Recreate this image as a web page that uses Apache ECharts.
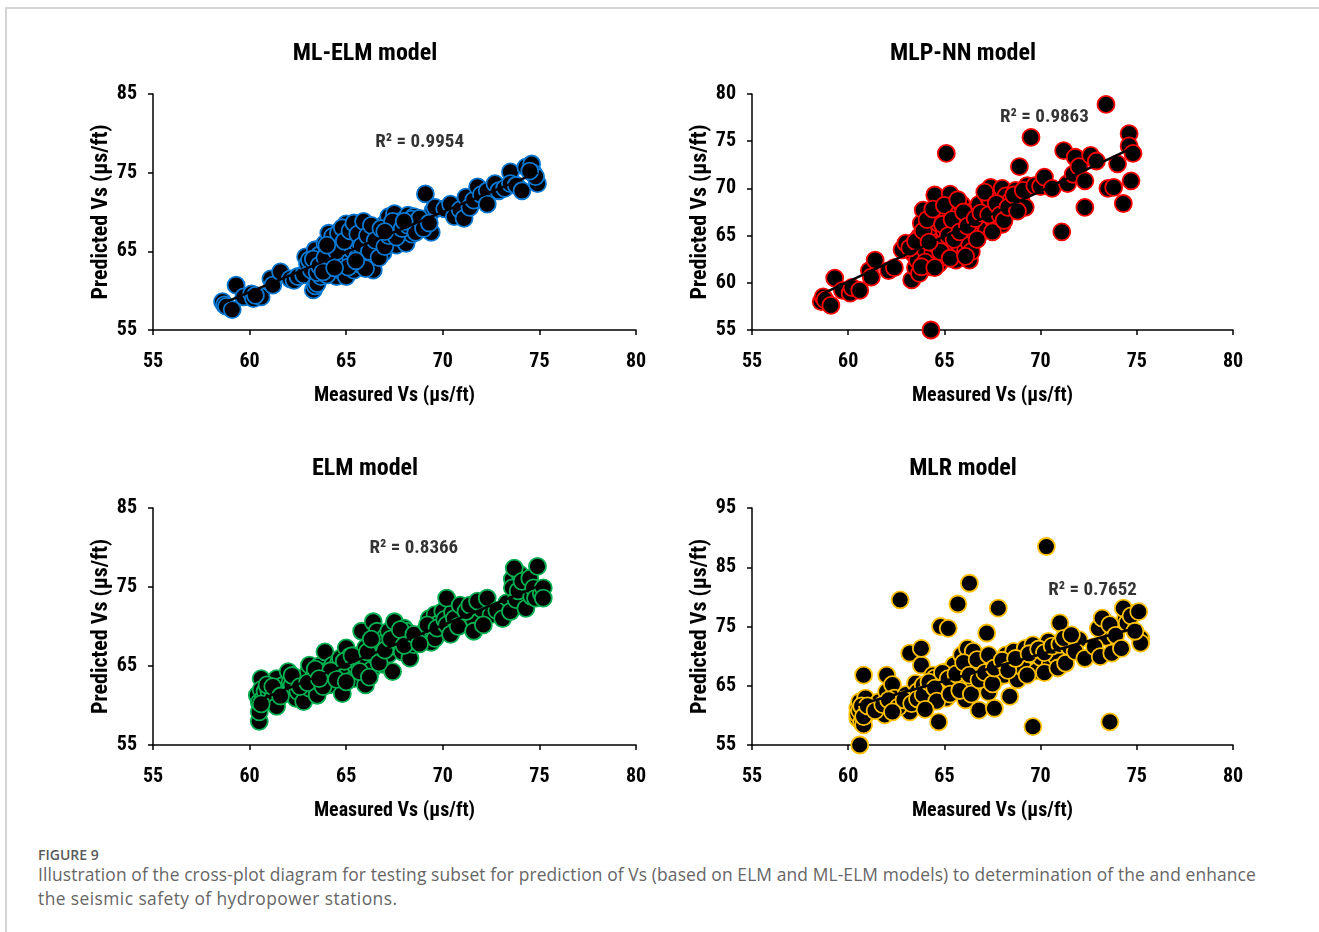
<!DOCTYPE html>
<html>
<head>
<meta charset="utf-8">
<script src="https://cdn.jsdelivr.net/npm/echarts@6/dist/echarts.min.js"></script>
<style>
  html, body { margin: 0; padding: 0; background: #fff; }
  #frame { position: absolute; left: 5px; top: 7px; width: 1314px; height: 925px;
           border-top: 2px solid #d4d4d4; border-left: 2px solid #d4d4d4; }
  #chart { position: absolute; left: 0; top: 0; width: 1319px; height: 840px; }
  .cap { position: absolute; left: 38px; font-family: "Open Sans", "Noto Sans", sans-serif; color: #666; white-space: nowrap; }
  #figno { top: 845px; font-size: 14px; font-weight: 600; color: #5a5a5a; }
  #l1 { top: 862px; font-size: 17.4px; font-weight: 400; letter-spacing: 0.12px; }
  #l2 { top: 886px; font-size: 17.4px; font-weight: 400; letter-spacing: 0.43px; }
</style>
</head>
<body>
<div id="frame"></div>
<div id="chart"></div>
<div class="cap" id="figno">FIGURE 9</div>
<div class="cap" id="l1">Illustration of the cross-plot diagram for testing subset for prediction of Vs (based on ELM and ML-ELM models) to determination of the and enhance</div>
<div class="cap" id="l2">the seismic safety of hydropower stations.</div>
<script>
// ---------- data ----------
const modelTitles = ['ML-ELM model', 'MLP-NN model', 'ELM model', 'MLR model'];
const r2Texts = ['R² = 0.9954', 'R² = 0.9863', 'R² = 0.8366', 'R² = 0.7652'];
const r2Anchor = [[68.8, 78.9], [70.2, 77.5], [68.5, 79.9], [72.7, 81.2]];
const xTicks = [55, 60, 65, 70, 75, 80];
const yRanges = [[55, 85, 10], [55, 80, 5], [55, 85, 10], [55, 95, 10]];
const borderColors = ['#0a78d2', '#ff0000', '#00b050', '#ffc000'];

const mlElmPoints = [
[58.6,58.6],[58.7,58.2],[58.8,58.0],[59.1,57.6],[59.3,60.7],[59.7,59.2],[60.1,59.6],[60.2,59.0],[60.6,59.2],[60.3,59.4],
[61.1,61.5],[61.2,60.7],[61.6,62.4],[62.1,61.5],[62.3,61.3],[62.5,61.8],[62.8,62.0],
[62.9,64.3],[63.0,63.4],[63.2,62.6],[63.3,60.1],[63.4,60.6],[63.5,60.9],[63.7,61.8],[63.4,65.2],[63.6,64.5],[63.9,66.0],[63.8,63.0],[64.0,64.8],[64.1,67.3],
[64.2,65.6],[64.3,63.9],[64.5,61.8],[64.4,66.5],[64.6,64.0],[64.7,62.6],[64.8,65.5],[64.9,63.5],[65.0,61.8],[64.7,67.7],[65.0,68.5],[65.1,66.5],[65.2,64.5],
[65.4,67.7],[65.3,65.2],[65.4,62.6],[65.5,66.2],[65.6,64.3],[65.7,63.4],[65.7,68.3],[66.0,68.5],[65.8,66.8],[65.9,65.0],[66.0,63.6],[66.2,66.0],[66.3,64.5],
[66.4,62.6],[66.4,67.4],[66.6,67.7],[66.6,65.5],[66.8,66.8],[66.9,64.8],[67.0,68.5],[67.1,66.2],[67.2,69.4],[67.3,66.0],[67.4,67.5],[67.5,69.8],[67.6,65.8],
[67.7,67.3],[67.8,68.8],[68.0,66.6],[68.1,67.7],[68.2,69.6],[68.3,68.5],[68.1,66.0],[68.4,67.2],[68.5,69.4],[68.7,68.0],[68.9,68.5],[69.1,72.3],[69.3,67.7],
[69.2,69.0],[69.5,70.2],[69.6,70.6],[69.4,67.4],
[63.1,63.9],[63.3,64.0],[63.5,62.3],[63.6,63.2],[63.9,64.2],[64.0,62.0],[64.2,63.0],[64.3,66.9],[64.5,65.0],[64.6,67.3],[64.8,68.0],[64.9,66.3],[65.1,63.0],
[65.2,67.6],[65.4,68.6],[65.6,67.2],[65.8,65.7],[65.9,68.8],[66.1,67.0],[66.2,65.0],[66.3,68.3],[66.5,66.4],[66.7,64.2],[66.8,67.9],[67.0,65.6],[67.2,67.0],
[67.4,68.8],[67.6,66.8],[67.9,67.9],[68.2,68.3],[68.4,69.1],[68.6,67.4],[68.8,69.2],[69.0,67.9],[69.3,68.6],[64.0,65.8],[63.8,62.4],[64.4,62.9],[66.0,62.8],
[65.5,63.8],[67.0,67.5],[68.0,68.8],
[70.1,70.4],[70.4,71.0],[70.6,69.4],[70.9,70.3],[71.2,71.9],[71.1,69.2],[71.4,70.6],[71.6,71.5],[71.8,73.2],[72.0,72.2],[72.3,72.7],[72.3,71.0],[72.7,73.6],
[72.9,72.7],[73.2,73.0],[73.5,75.1],[73.5,73.6],[73.8,73.4],[74.1,72.7],[74.3,75.7],[74.6,76.1],[74.7,74.9],[74.9,73.6],[74.8,74.5],[74.5,75.2]
];

const mlpNnPoints = [
[58.6,58.0],[58.7,58.5],[58.8,58.2],[59.1,57.6],[59.3,60.5],[59.7,59.2],[60.1,58.9],[60.2,59.5],[60.6,59.2],
[61.1,61.3],[61.2,60.6],[61.4,62.4],[62.1,61.3],[62.4,61.6],[62.8,63.5],[63.0,64.2],[63.3,60.3],[63.4,63.1],[63.5,61.6],[63.6,62.4],[63.7,61.0],[63.7,64.9],
[63.8,66.3],[63.9,67.7],[64.0,63.5],[64.2,65.0],[64.3,65.6],[64.3,61.7],[64.5,69.3],[64.4,63.2],[64.6,67.0],[64.7,66.3],[64.7,62.0],[64.8,64.5],[64.9,62.7],
[65.0,65.5],[65.1,67.0],[65.1,73.7],[65.2,63.8],[65.3,69.4],[65.3,65.6],[65.4,62.7],[65.5,67.7],[65.6,62.4],[65.6,66.2],[65.8,64.0],[65.9,68.3],[65.9,64.9],
[66.0,66.8],[66.1,63.4],[66.3,62.4],[66.3,64.2],[66.4,67.5],[66.5,65.5],[66.8,68.3],[66.8,65.2],[67.0,66.4],[67.2,65.6],[67.3,69.0],[67.4,70.1],[67.4,68.7],
[67.5,66.8],[67.6,67.0],[67.8,68.0],[68.0,70.0],[68.0,66.2],[68.2,69.2],[68.4,68.6],[68.5,67.7],[68.7,69.8],[68.9,72.3],[69.0,68.6],[69.2,68.0],[69.3,70.3],
[63.2,63.7],[63.5,64.4],[63.9,65.5],[64.0,62.2],[64.1,66.7],[64.4,67.8],[64.6,64.0],[64.9,66.2],[65.0,68.2],[65.2,65.0],[65.4,66.7],[65.5,64.6],[65.7,68.8],
[65.8,65.4],[66.0,67.5],[66.2,66.0],[66.4,63.3],[66.6,66.8],[66.7,64.6],[66.9,67.4],[67.1,69.6],[67.3,67.2],[67.5,65.4],[67.7,68.4],[67.9,67.2],[68.1,66.6],
[68.3,68.0],[68.6,69.3],[68.8,67.6],[69.1,69.8],[64.8,63.3],[65.3,62.6],[66.1,62.8],[63.8,61.7],[64.5,61.6],[64.2,64.3],
[69.5,75.4],[69.7,70.3],[70.0,70.2],[70.2,71.2],[70.6,70.0],[71.1,65.4],[71.2,74.0],[71.4,70.5],[71.7,71.5],[71.8,73.3],[72.0,72.3],[72.3,68.0],[72.3,70.8],
[72.6,73.5],[72.9,72.9],[73.4,78.9],[73.5,70.0],[73.8,70.1],[74.0,72.6],[74.3,68.4],[74.6,75.8],[74.6,74.5],[74.7,70.8],[74.8,73.7],[64.3,55.0]
];

const elmPoints = [
[60.4,61.3],[60.5,58.0],[60.5,59.2],[60.5,60.4],[60.6,63.4],[60.6,62.0],[60.7,60.9],[60.8,61.8],[61.0,61.8],[61.2,61.0],[61.4,63.4],[61.4,59.9],[61.7,62.5],
[62.0,64.3],[62.1,62.9],[62.2,62.6],[62.4,60.9],[62.5,61.8],[62.7,63.0],[62.8,60.5],[63.0,64.0],[63.1,65.1],[63.1,62.2],[63.3,63.5],[63.5,61.3],[63.6,65.0],
[63.7,64.3],[63.9,66.8],[64.0,63.6],[64.1,62.6],[64.3,65.1],[64.4,64.0],[64.6,65.4],[64.7,66.0],[64.8,61.5],[64.9,64.0],[65.0,67.3],[65.1,64.7],[65.2,66.2],
[65.4,63.4],[65.5,65.0],[65.6,65.6],[65.8,69.4],[65.8,66.5],[66.0,67.3],[65.9,63.9],[66.0,62.6],[66.1,65.3],[66.3,64.5],[66.4,70.6],[66.5,67.8],[66.6,69.4],
[66.6,66.0],[66.8,67.7],[66.9,65.2],[67.0,68.6],[67.2,69.4],[67.2,66.5],[67.4,64.3],[67.5,70.6],[67.5,67.5],[67.7,68.1],[67.9,66.8],[68.0,69.8],[68.1,69.4],
[68.3,66.0],[68.3,68.2],[68.5,67.7],[68.7,68.6],[68.9,68.1],[69.1,69.5],[69.3,71.0],[69.4,68.0],[69.5,69.4],[69.6,71.5],[69.6,68.5],[69.8,70.4],[70.0,71.9],
[60.6,60.2],[60.9,62.6],[61.2,62.4],[61.6,61.2],[62.2,63.8],[62.6,62.4],[63.0,62.9],[63.4,64.6],[63.8,62.4],[64.2,64.4],[64.5,63.3],[64.9,65.6],[65.3,66.3],
[65.7,64.3],[66.1,66.8],[66.3,68.4],[66.7,65.4],[67.0,67.0],[67.3,68.4],[67.8,69.6],[68.0,67.6],[68.5,69.0],[68.8,67.8],[69.2,70.2],[69.7,69.8],[70.1,70.9],
[70.5,71.8],[71.0,70.6],[71.5,71.1],[72.0,72.2],[72.5,71.5],[73.3,73.0],[73.9,72.8],[74.2,74.0],[74.4,75.0],[73.6,76.0],[74.0,76.6],[66.2,63.6],[65.0,63.0],
[63.6,63.4],
[70.2,73.6],[70.2,70.2],[70.4,69.0],[70.6,71.0],[70.8,70.0],[70.9,72.7],[71.2,71.9],[71.4,72.7],[71.6,69.4],[71.8,73.2],[72.1,70.2],[72.3,73.6],[72.8,72.0],
[73.1,71.0],[73.5,71.9],[73.6,74.9],[73.7,77.4],[73.8,73.4],[73.9,74.5],[74.1,75.7],[74.3,72.3],[74.5,76.1],[74.6,73.8],[74.7,74.9],[74.8,73.6],[74.9,77.6],
[75.1,74.2],[75.2,74.9],[75.2,73.6]
];

const mlrPoints = [
[60.5,59.5],[60.5,61.2],[60.5,60.2],[60.6,55.0],[60.6,62.3],[60.7,58.8],[60.8,58.4],[60.8,66.8],[60.9,60.1],[60.9,62.9],[61.3,61.2],[61.6,62.3],[61.9,60.1],
[62.0,64.0],[62.0,66.8],[62.3,65.2],[62.4,62.9],[62.7,79.5],[62.8,61.8],[63.0,63.5],[63.2,60.6],[63.2,70.5],[63.5,65.4],[63.6,64.0],[63.8,68.5],[63.8,71.3],
[63.9,65.1],[64.1,62.5],[64.3,64.0],[64.4,66.8],[64.5,66.3],[64.7,58.9],[64.8,75.0],[64.8,63.2],[65.0,65.5],[65.1,67.4],[65.1,62.9],[65.2,74.7],[65.4,64.6],
[65.5,68.5],[65.7,78.8],[65.8,66.0],[65.9,70.2],[66.0,66.3],[66.1,62.6],[66.2,71.3],[66.3,82.3],[66.4,64.8],[66.5,70.8],[66.6,67.5],[66.8,60.9],[66.9,65.4],
[67.0,68.5],[67.2,73.9],[67.2,69.1],[67.3,63.9],[67.4,67.4],[67.6,61.2],[67.7,66.2],[67.8,78.1],[67.9,68.3],[68.1,66.8],[68.2,70.2],[68.4,63.2],[68.6,70.8],
[68.8,66.0],[69.0,69.2],[69.1,68.0],[69.2,71.3],[69.6,58.1],[69.6,71.9],[69.8,67.5],[70.0,69.8],[70.3,88.5],[70.4,72.5],[70.5,68.7],[70.8,70.0],[71.0,75.6],
[60.6,60.8],[60.7,61.6],[60.8,59.8],[61.0,61.6],[61.4,60.8],[61.8,61.8],[62.1,62.6],[62.6,61.4],[62.9,62.6],[63.3,62.0],[63.6,62.8],[63.9,63.5],[64.2,65.6],
[64.5,64.6],[64.6,62.4],[64.9,67.2],[65.2,66.2],[65.3,63.6],[65.6,67.0],[65.8,64.2],[66.0,68.9],[66.3,66.8],[66.4,63.6],[66.7,69.4],[66.8,66.0],[67.1,67.2],
[67.3,70.2],[67.5,65.3],[67.6,68.0],[68.0,69.3],[68.3,67.6],[68.7,69.6],[69.4,70.4],[69.9,71.2],[70.2,70.6],[70.6,71.7],[71.0,72.0],[71.5,71.5],[72.0,72.8],
[73.4,73.2],[74.0,74.6],[74.4,76.2],[74.8,77.2],[69.3,66.8],[70.2,67.2],[70.9,68.0],[64.0,61.0],[62.3,60.6],
[71.2,73.0],[71.3,68.8],[71.6,73.6],[71.8,70.8],[72.3,69.6],[72.8,71.6],[73.0,74.7],[73.1,69.9],[73.2,76.4],[73.6,58.9],[73.6,75.3],[73.7,70.5],[73.9,73.5],
[74.2,71.3],[74.3,78.1],[74.5,75.6],[74.7,76.8],[75.1,77.5],[75.2,73.0],[75.2,72.2],[74.9,74.2]
];

const allPoints = [mlElmPoints, mlpNnPoints, elmPoints, mlrPoints];

// ---------- helpers ----------
function trend(points) {
  const n = points.length;
  let sx = 0, sy = 0, sxx = 0, sxy = 0, mn = Infinity, mx = -Infinity;
  points.forEach(([x, y]) => { sx += x; sy += y; sxx += x * x; sxy += x * y; mn = Math.min(mn, x); mx = Math.max(mx, x); });
  const b = (n * sxy - sx * sy) / (n * sxx - sx * sx);
  const a = (sy - b * sx) / n;
  return [[mn, a + b * mn], [mx, a + b * mx]];
}

const FONT = '"Liberation Sans Narrow", "Roboto Condensed", Roboto, sans-serif';
const grids = [
  { left: 153, top: 94, width: 483, height: 236 },
  { left: 752, top: 94, width: 481, height: 236 },
  { left: 153, top: 508, width: 483, height: 237 },
  { left: 752, top: 508, width: 481, height: 237 }
];
const titlePos = [[360, 37], [958, 37], [360, 452], [958, 452]];

const axisCommon = {
  axisLine: { lineStyle: { color: '#000', width: 1.5 } },
  axisTick: { show: true, length: 5, lineStyle: { color: '#000', width: 1.5 } },
  splitLine: { show: false }
};
const labelStyle = { color: '#000', fontFamily: FONT, fontWeight: 'bold', fontSize: 20 };

const option = {
  animation: false,
  backgroundColor: 'transparent',
  title: modelTitles.map((t, i) => ({
    text: t, left: titlePos[i][0], top: titlePos[i][1], textAlign: 'center',
    textStyle: { fontFamily: FONT, fontWeight: 'bold', fontSize: 24, color: '#000' }
  })),
  grid: grids,
  xAxis: grids.map((g, i) => Object.assign({}, axisCommon, {
    type: 'value', gridIndex: i, min: xTicks[0], max: xTicks[xTicks.length - 1], interval: 5,
    name: 'Measured Vs (µs/ft)', nameLocation: 'middle', nameGap: 56,
    nameTextStyle: Object.assign({}, labelStyle, { fontSize: 20 }),
    axisLabel: Object.assign({}, labelStyle, { margin: 22 })
  })),
  yAxis: grids.map((g, i) => Object.assign({}, axisCommon, {
    type: 'value', gridIndex: i, min: yRanges[i][0], max: yRanges[i][1], interval: yRanges[i][2],
    name: 'Predicted Vs (µs/ft)', nameLocation: 'middle', nameGap: 41,
    nameTextStyle: Object.assign({}, labelStyle, { fontSize: 22 }),
    axisLabel: Object.assign({}, labelStyle, { margin: 16 })
  })),
  series: []
};

allPoints.forEach((pts, i) => {
  option.series.push({
    type: 'scatter', xAxisIndex: i, yAxisIndex: i, data: pts, symbolSize: 17,
    itemStyle: { color: '#000', borderColor: borderColors[i], borderWidth: 1.8, opacity: 1 },
    z: 2
  });
  option.series.push({
    type: 'line', xAxisIndex: i, yAxisIndex: i, data: trend(pts), symbol: 'none',
    lineStyle: { color: '#000', width: 2.5 }, z: 3
  });
  option.series.push({
    type: 'scatter', xAxisIndex: i, yAxisIndex: i, data: [r2Anchor[i]], symbolSize: 0,
    label: { show: true, position: 'inside', formatter: r2Texts[i], color: '#000',
             fontFamily: FONT, fontWeight: 'bold', fontSize: 19 },
    z: 4
  });
});

const chart = echarts.init(document.getElementById('chart'), null, { renderer: 'canvas' });
chart.setOption(option);
</script>
</body>
</html>
